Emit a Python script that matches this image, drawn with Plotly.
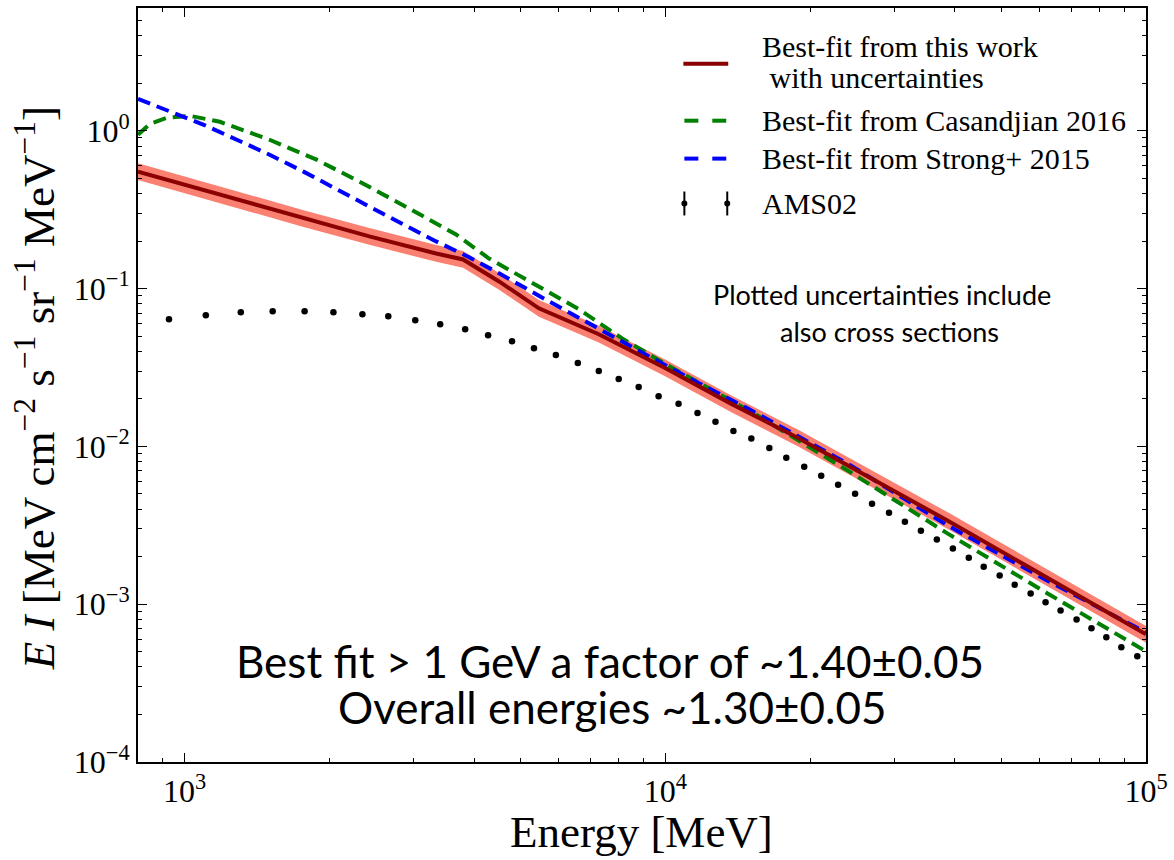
import plotly.graph_objects as go

# ---------------- data ----------------
fit_energy = [800, 1284, 1768, 2423, 3337, 3796, 4510, 5459, 7272, 10014, 13725, 18900, 38700, 100000]
fit_flux = [0.551, 0.366, 0.278, 0.214, 0.167, 0.153, 0.111, 0.0750, 0.0514, 0.0313, 0.0186, 0.0113, 0.00338, 0.000644]
fit_rel_unc = [0.13, 0.13, 0.13, 0.13, 0.13, 0.13, 0.13, 0.13, 0.13, 0.13, 0.13, 0.13, 0.13, 0.13]

cas_energy = [800, 847, 919, 1026, 1184, 1503, 1882, 2355, 2935, 3672, 4299, 5281, 6610, 8117,
              10014, 12295, 15392, 24010, 38700, 62400, 100000]
cas_flux = [0.944, 1.107, 1.208, 1.244, 1.140, 0.877, 0.656, 0.462, 0.321, 0.220, 0.155, 0.108, 0.0740,
            0.0485, 0.0332, 0.0234, 0.0160, 0.00700, 0.00280, 0.00117, 0.000502]

strong_energy = [800, 932, 1096, 1284, 1503, 1768, 2070, 2423, 2851, 3337, 3908, 4510, 5727, 7272,
                 9235, 11726, 14889, 24010, 38700, 62400, 100000]
strong_flux = [1.592, 1.318, 1.091, 0.877, 0.705, 0.551, 0.430, 0.331, 0.255, 0.199, 0.158, 0.125, 0.0830,
               0.0552, 0.0373, 0.0252, 0.0173, 0.00774, 0.00315, 0.00141, 0.000662]

ams_energy = [928, 1107, 1309, 1525, 1777, 2040, 2344, 2653, 3019, 3402, 3834, 4279, 4799, 5331, 5920,
              6577, 7272, 8000, 8803, 9685, 10656, 11668, 12717, 13858, 15101, 16461, 17853, 19454,
              21102, 22881, 24820, 26920, 29200, 31510, 34020, 36720, 39650, 42790, 45960, 49610,
              53320, 57540, 61810, 66420, 71700, 77010, 82700, 88860, 95920]
ams_flux = [0.0639, 0.0678, 0.0708, 0.0718, 0.0718, 0.0708, 0.0688, 0.0668, 0.0630, 0.0594, 0.0553,
            0.0507, 0.0464, 0.0419, 0.0379, 0.0337, 0.0300, 0.0267, 0.0238, 0.0208, 0.0186, 0.0163,
            0.0143, 0.0125, 0.0112, 0.00978, 0.00846, 0.00742, 0.00651, 0.00571, 0.00501, 0.00433,
            0.00380, 0.00333, 0.00292, 0.00257, 0.00225, 0.00197, 0.00173, 0.00152, 0.00133, 0.00117,
            0.00103, 0.000913, 0.000801, 0.000703, 0.000617, 0.000533, 0.000468]

x_major = [1e3, 1e4, 1e5]
x_major_text = ["10<sup>3</sup>", "10<sup>4</sup>", "10<sup>5</sup>"]
y_major = [1e-4, 1e-3, 1e-2, 1e-1, 1e0]
y_major_text = ["10<sup>−4</sup>", "10<sup>−3</sup>", "10<sup>−2</sup>", "10<sup>−1</sup>", "10<sup>0</sup>"]

legend_labels = ["Best-fit from this work", "\u00a0with uncertainties", "Best-fit from Casandjian 2016",
                 "Best-fit from Strong+ 2015", "AMS02"]

# ---------------- figure ----------------
W, H = 1174, 860
L, R, T, B = 138, 25, 6, 98
pw, ph = W - L - R, H - T - B


def px(x):
    return (x - L) / pw


def py(y):
    return (H - B - y) / ph


SERIF = "Liberation Serif"
SANS = "Lato"

fig = go.Figure()

upper = [f * (1 + u) for f, u in zip(fit_flux, fit_rel_unc)]
lower = [f / (1 + u) for f, u in zip(fit_flux, fit_rel_unc)]
fig.add_trace(go.Scatter(
    x=fit_energy + fit_energy[::-1], y=upper + lower[::-1],
    fill="toself", fillcolor="#FA8072", line=dict(width=0), mode="lines",
    hoverinfo="skip"))
fig.add_trace(go.Scatter(x=ams_energy, y=ams_flux, mode="markers",
                         marker=dict(color="black", size=6.5)))
fig.add_trace(go.Scatter(x=cas_energy, y=cas_flux, mode="lines",
                         line=dict(color="#008000", width=4, dash="13px,7px")))
fig.add_trace(go.Scatter(x=strong_energy, y=strong_flux, mode="lines",
                         line=dict(color="#0000FF", width=4, dash="13px,7px")))
fig.add_trace(go.Scatter(x=fit_energy, y=fit_flux, mode="lines",
                         line=dict(color="#8B0000", width=4)))

x_minor = [900] + [k * 1e3 for k in range(2, 10)] + [k * 1e4 for k in range(2, 10)]
y_minor = []
for d in [1e-4, 1e-3, 1e-2, 1e-1, 1e0]:
    y_minor += [k * d for k in range(2, 10)]
y_minor = [v for v in y_minor if v <= 6]

axis_common = dict(
    type="log", showgrid=False, zeroline=False, showline=True, linecolor="black",
    linewidth=1.8, mirror="ticks", ticks="inside", ticklen=9, tickwidth=1.3,
    tickcolor="black", tickmode="array",
    tickfont=dict(family=SERIF, size=32, color="black"),
)
fig.update_xaxes(range=[2.90309, 5.0], tickvals=x_major, ticktext=x_major_text,
                 minor=dict(tickvals=x_minor, ticks="inside", ticklen=4.5, tickwidth=1,
                            tickcolor="black", showgrid=False),
                 **axis_common)
fig.update_yaxes(range=[-4, 0.778], tickvals=y_major, ticktext=y_major_text,
                 minor=dict(tickvals=y_minor, ticks="inside", ticklen=4.5, tickwidth=1,
                            tickcolor="black", showgrid=False),
                 **axis_common)

annotations = [
    dict(text="<i>E</i> <i>I</i> [MeV cm<sup>−2</sup> s<sup>−1</sup> sr<sup>−1</sup> MeV<sup>−1</sup>]",
         x=px(36), y=py(387), textangle=-90, font=dict(family=SERIF, size=45, color="black")),
    dict(text="Energy [MeV]", x=px(643), y=py(832), font=dict(family=SERIF, size=45, color="black")),
    dict(text="Plotted uncertainties include", x=px(884), y=py(293),
         font=dict(family=SANS, size=27, color="black")),
    dict(text="also cross sections", x=px(892), y=py(330),
         font=dict(family=SANS, size=27, color="black")),
    dict(text="Best fit > 1 GeV a factor of ~1.40±0.05", x=px(611), y=py(661),
         font=dict(family=SANS, size=44, color="black")),
    dict(text="Overall energies ~1.30±0.05", x=px(613), y=py(707),
         font=dict(family=SANS, size=44, color="black")),
]
for a in annotations:
    a.update(xref="paper", yref="paper", showarrow=False, xanchor="center", yanchor="middle")

# manual legend (matplotlib-like)
leg_line_y = [62, 119, 157, 202]
leg_text_y = [45, 76, 119, 157, 202]
for lab, ty in zip(legend_labels, leg_text_y):
    annotations.append(dict(text=lab, x=px(762), y=py(ty), xref="paper", yref="paper",
                            showarrow=False, xanchor="left", yanchor="middle",
                            font=dict(family=SERIF, size=30, color="black")))

shapes = [dict(type="line", xref="paper", yref="paper", x0=px(685), x1=px(730), y0=py(leg_line_y[0]),
               y1=py(leg_line_y[0]), line=dict(color="#8B0000", width=4))]
for i, col in [(1, "#008000"), (2, "#0000FF")]:
    for a0, a1 in [(686, 700), (714, 728)]:
        shapes.append(dict(type="line", xref="paper", yref="paper", x0=px(a0), x1=px(a1),
                           y0=py(leg_line_y[i]), y1=py(leg_line_y[i]), line=dict(color=col, width=4)))
for cx in [686, 729]:
    shapes.append(dict(type="line", xref="paper", yref="paper", x0=px(cx), x1=px(cx),
                       y0=py(leg_line_y[3] - 12), y1=py(leg_line_y[3] + 12),
                       line=dict(color="black", width=2)))
    shapes.append(dict(type="circle", xref="paper", yref="paper", x0=px(cx - 3), x1=px(cx + 3),
                       y0=py(leg_line_y[3] + 3), y1=py(leg_line_y[3] - 3), fillcolor="black",
                       line=dict(color="black", width=0)))

fig.update_layout(
    width=W, height=H, margin=dict(l=L, r=R, t=T, b=B),
    paper_bgcolor="white", plot_bgcolor="white", showlegend=False,
    annotations=annotations, shapes=shapes,
    font=dict(family=SERIF, color="black"),
)

fig.write_html("out.html")
